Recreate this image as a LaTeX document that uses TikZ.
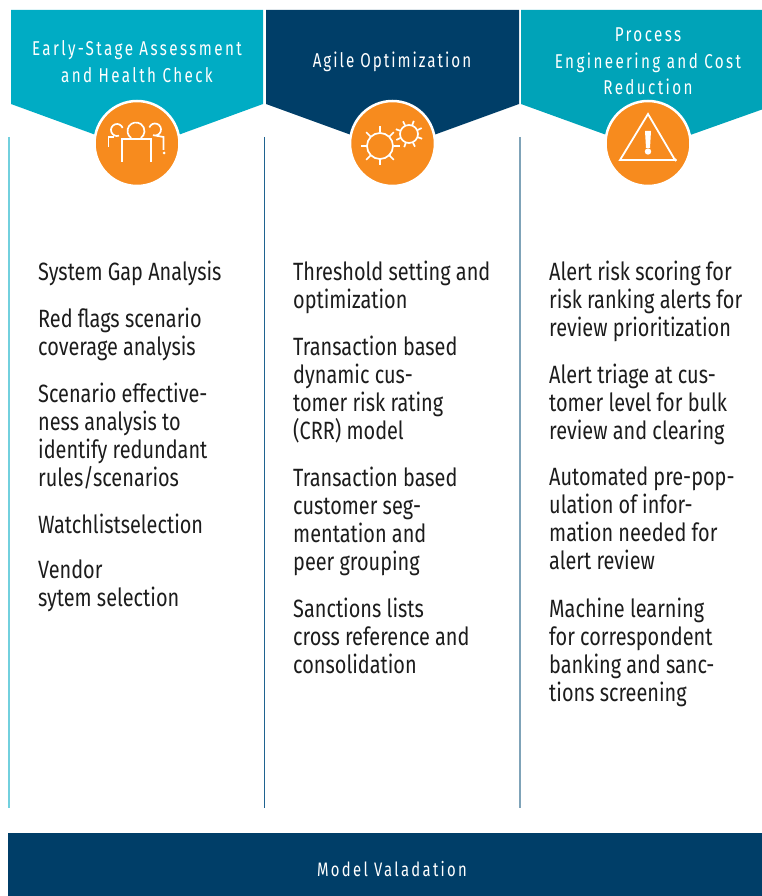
\documentclass[tikz,border=0pt]{standalone}
\usetikzlibrary{calc}
\usepackage{fontspec}
\setmainfont[FakeStretch=0.796]{Fira Sans}
\newfontfamily\headfont[FakeStretch=0.76,LetterSpace=12]{Fira Sans}
\newfontfamily\agilefont[FakeStretch=0.76,LetterSpace=10]{Fira Sans}
\definecolor{tealA}{HTML}{00ACC4}
\definecolor{navy}{HTML}{003E68}
\definecolor{tealC}{HTML}{00A3B8}
\definecolor{orng}{HTML}{F78B1E}
\definecolor{bodyc}{HTML}{1C1C1C}
\definecolor{ruleA}{HTML}{72D0DE}
\definecolor{ruleB}{HTML}{1F6390}
\definecolor{ruleC}{HTML}{7FA3B8}
\tikzset{
  x=1pt,y=-1pt,
  headtxt/.style={text=white,align=center,font=\headfont\fontsize{20}{26.5}\selectfont,inner sep=0pt},
  agiletxt/.style={text=white,align=center,font=\agilefont\fontsize{20}{26.5}\selectfont,inner sep=0pt},
  foottxt/.style={text=white,align=center,font=\headfont\fontsize{19.5}{26.5}\selectfont,inner sep=0pt},
  bodytxt/.style={text=bodyc,align=left,anchor=north west,inner sep=0pt,font=\fontsize{25}{28}\selectfont},
  badge/.style={circle,fill=orng,draw=white,line width=2.5pt,minimum size=85pt,inner sep=0pt},
  icon/.style={draw=white,line width=1.7pt,fill=none}
}
\begin{document}
\begin{tikzpicture}
\useasboundingbox (0,0) rectangle (762,896);
% rules
\draw[ruleA,line width=1.5pt] (9,137) -- (9,808);
\draw[ruleB,line width=1.2pt] (264.5,137) -- (264.5,808);
\draw[ruleC,line width=1.3pt] (520,137) -- (520,808);
% headers
\fill[tealA] (11,10) -- (263,10) -- (263,104) -- (137,150) -- (11,104) -- cycle;
\fill[navy] (266,10) -- (519,10) -- (519,104) -- (392.5,150) -- (266,104) -- cycle;
\fill[tealC] (521,10) -- (762,10) -- (762,109.5) -- (648,150) -- (521,104) -- cycle;
\node[badge] (b1) at (137,143.5) {};
\node[badge] (b2) at (392.5,143.5) {};
\node[badge] (b3) at (648,143.5) {};
\node[headtxt] (h1) at (137,61.5) {Early-Stage Assessment\\and Health Check};
\node[agiletxt] (h2) at (392,62) {Agile Optimization};
\node[headtxt] (h3) at (648,61.5) {Process\\Engineering and Cost\\Reduction};
% people icon
\draw[icon] (122,162) -- (122,139) -- (151,139) -- (151,162);
\draw[icon] (136,131) ++(125:8.5) arc[start angle=125,end angle=415,radius=8.5];
\draw[icon] (108.5,147) -- (108.5,137) -- (114,137);
\draw[icon] (117,130) ++(70:6) arc[start angle=70,end angle=340,radius=6];
\draw[icon] (155,129.5) ++(200:6) arc[start angle=200,end angle=470,radius=6] -- (163.5,137) -- (163.5,150);
\fill[white] (164,153) circle (1.5);
% gears icon
\draw[icon] (380,146) circle (13);
\foreach \a in {0,45,...,315}{\draw[icon] ($(380,146)+(\a:13.5)$) -- ($(380,146)+(\a:19.5)$);}
\draw[icon] (409,134) circle (9);
\foreach \a in {20,65,...,335}{\draw[icon] ($(409,134)+(\a:9.5)$) -- ($(409,134)+(\a:14)$);}
\fill[white] (389.5,155) circle (1.5);
% warning icon
\draw[icon,line width=1.8pt,line join=miter] (648,114) -- (620,160) -- (675,160) -- cycle;
\fill[white] (645,131) -- (651,131) -- (650,148) -- (646,148) -- cycle;
\fill[white] (648,151.5) circle (3.2);
\fill[white] (675.5,160) circle (1.7);
% body text
\node[bodytxt] (a1) at (38,260.5) {System Gap Analysis};
\node[bodytxt] (a2) at (38,307.5) {Red flags scenario\\coverage analysis};
\node[bodytxt] (a3) at (38,382.5) {Scenario effective-\\ness analysis to\\identify redundant\\rules/scenarios};
\node[bodytxt] (a4) at (38,513.5) {Watchlistselection};
\node[bodytxt] (a5) at (38,560) {Vendor\\sytem selection};
\node[bodytxt] (c1) at (293,260.5) {Threshold setting and\\optimization};
\node[bodytxt] (c2) at (293,335.5) {Transaction based\\dynamic cus-\\tomer risk rating\\(CRR) model};
\node[bodytxt] (c3) at (293,466.5) {Transaction based\\customer seg-\\mentation and\\peer grouping};
\node[bodytxt] (c4) at (293,597.5) {Sanctions lists\\cross reference and\\consolidation};
\node[bodytxt] (e1) at (549,260.5) {Alert risk scoring for\\risk ranking alerts for\\review prioritization};
\node[bodytxt] (e2) at (549,363.5) {Alert triage at cus-\\tomer level for bulk\\review and clearing};
\node[bodytxt] (e3) at (549,466.5) {Automated pre-pop-\\ulation of infor-\\mation needed for\\alert review};
\node[bodytxt] (e4) at (549,597.5) {Machine learning\\for correspondent\\banking and sanc-\\tions screening};
% footer
\fill[navy] (8,833) rectangle (762,896);
\node[foottxt] (f) at (392,869) {Model Valadation};
\end{tikzpicture}
\end{document}
